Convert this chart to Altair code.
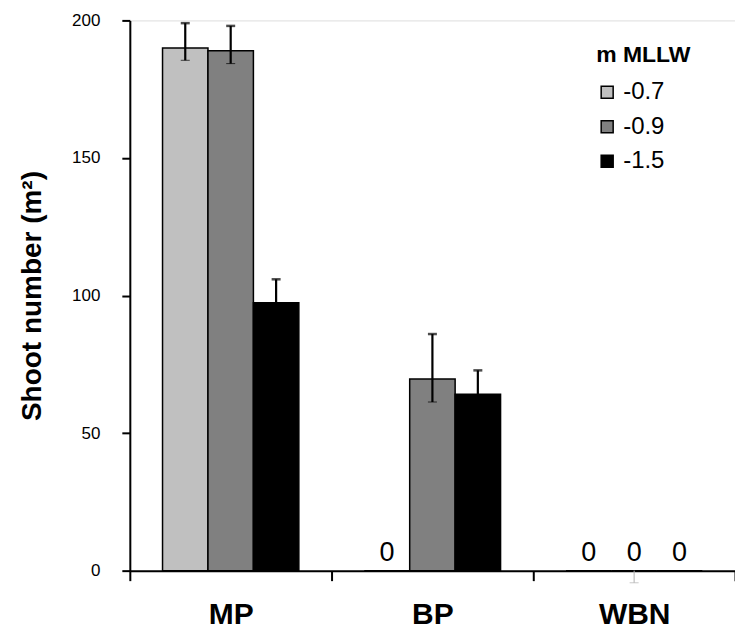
import altair as alt
import pandas as pd

# ---- data ----
sites = ["MP", "BP", "WBN"]
levels = ["-0.7", "-0.9", "-1.5"]
colors = ["#c0c0c0", "#808080", "#000000"]
legend_title = ["m MLLW"]

# values per site, ordered as levels
mp_values = [190, 189, 97.4]
bp_values = [0, 69.7, 64.1]
wbn_values = [0, 0, 0]

# error bar extents (low, high); None = no error bar drawn
mp_err_low = [185.5, 184.3, 89.0]
mp_err_high = [199.0, 198.0, 105.9]
bp_err_low = [None, 61.3, 55.4]
bp_err_high = [None, 86.0, 72.8]
wbn_err_low = [None, -4.4, None]
wbn_err_high = [None, 0.0, None]

rows = []
for site, vals, lows, highs in [
    ("MP", mp_values, mp_err_low, mp_err_high),
    ("BP", bp_values, bp_err_low, bp_err_high),
    ("WBN", wbn_values, wbn_err_low, wbn_err_high),
]:
    for lvl, v, lo, hi in zip(levels, vals, lows, highs):
        rows.append({"site": site, "level": lvl, "value": v, "lo": lo, "hi": hi})
df = pd.DataFrame(rows)
err_df = df.dropna(subset=["lo", "hi"])

FONT = "Liberation Sans"

x_enc = alt.X("site:N", sort=sites,
              scale=alt.Scale(paddingInner=0, paddingOuter=0),
              axis=alt.Axis(title=None, labelAngle=0, labelFontSize=30,
                            labelFontWeight="bold", labelPadding=19,
                            tickSize=10, tickWidth=2, tickColor="black",
                            domainColor="black", domainWidth=2,
                            tickBand="extent", labelColor="black"))
xoff = alt.XOffset("level:N", sort=levels,
                   scale=alt.Scale(paddingInner=0, paddingOuter=0.72))
y_scale = alt.Scale(domain=[0, 200], nice=False, zero=False)
y_axis = alt.Axis(values=[0, 50, 100, 150, 200], title="Shoot number (m²)",
                  titleFontSize=28, titleFontWeight="bold", titlePadding=25,
                  titleColor="black", labelFontSize=17, labelPadding=22,
                  labelColor="black", tickSize=8, tickWidth=2,
                  tickColor="black", domainColor="black", domainWidth=2,
                  grid=False)

bars = alt.Chart(df).mark_bar(stroke="black", strokeWidth=1.5).encode(
    x=x_enc,
    xOffset=xoff,
    y=alt.Y("value:Q", scale=y_scale, axis=y_axis),
    color=alt.Color("level:N", sort=levels,
                    scale=alt.Scale(domain=levels, range=colors),
                    legend=alt.Legend(title=None)),
)

err_color = alt.condition("datum.value == 0", alt.value("#b0b0b0"), alt.value("black"))
err_width = alt.condition("datum.value == 0", alt.value(1), alt.value(2.2))

rules = alt.Chart(err_df).mark_rule().encode(
    x=alt.X("site:N", sort=sites),
    xOffset=xoff,
    y=alt.Y("lo:Q", scale=y_scale),
    y2="hi:Q",
    color=err_color,
    strokeWidth=err_width,
)

caps_lo = alt.Chart(err_df).mark_tick(size=9).encode(
    x=alt.X("site:N", sort=sites),
    xOffset=xoff,
    y=alt.Y("lo:Q", scale=y_scale),
    color=err_color,
    strokeWidth=err_width,
)

caps_hi = alt.Chart(err_df).mark_tick(size=9, thickness=2.5, color="black").encode(
    x=alt.X("site:N", sort=sites),
    xOffset=xoff,
    y=alt.Y("hi:Q", scale=y_scale),
).transform_filter("datum.value > 0")

zeros = alt.Chart(df).mark_text(fontSize=27, dy=-10, baseline="alphabetic",
                                color="black", font=FONT).encode(
    x=alt.X("site:N", sort=sites),
    xOffset=xoff,
    y=alt.Y("value:Q", scale=y_scale),
    text=alt.Text("value:Q", format="d"),
).transform_filter("datum.value == 0")

# legend heading drawn as text above the legend entries
leg_title = alt.Chart(pd.DataFrame({"t": legend_title})).mark_text(
    fontSize=23, fontWeight="bold", align="left", baseline="alphabetic",
    color="black", font=FONT,
).encode(x=alt.value(467), y=alt.value(42), text="t:N")

chart = alt.layer(bars, rules, caps_lo, caps_hi, zeros, leg_title).properties(
    width=606, height=551,
    autosize=alt.AutoSizeParams(type="none"),
    padding={"left": 130, "top": 20, "right": 0, "bottom": 59},
).configure_view(stroke=None).configure(
    font=FONT,
).configure_axis(labelFont=FONT, titleFont=FONT).configure_legend(
    orient="none", legendX=466, legendY=60, padding=0,
    labelFont=FONT, labelFontSize=24, labelColor="black",
    symbolType="square", symbolSize=144, symbolStrokeColor="black",
    symbolStrokeWidth=1.5, rowPadding=10.5, labelOffset=4, symbolOffset=0,
)

chart.save("out.html", embed_options={"renderer": "svg", "actions": False})
